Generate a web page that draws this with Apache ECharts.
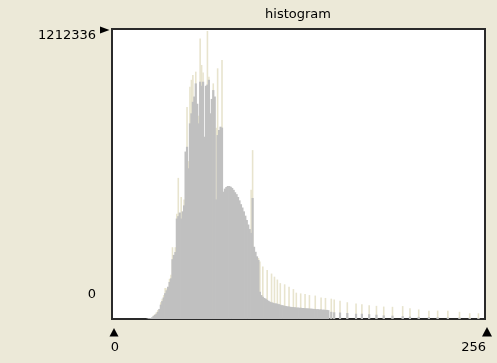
<!DOCTYPE html>
<html>
<head>
<meta charset="utf-8">
<script src="https://cdn.jsdelivr.net/npm/echarts@6/dist/echarts.min.js"></script>
<style>
  html, body { margin: 0; padding: 0; background: #ECE9D8; }
  #char { width: 497px; height: 363px; }
</style>
</head>
<body>
<div id="char"></div>
<script>
// histogram counts, in thousands, one value per bin (0..255)
var grayCounts = [
    0, 0, 0, 0, 0, 0, 0, 0, 0, 0, 0, 0, 0, 0, 0, 0,
    0, 0, 0, 0, 0, 0, 0, 0, 2, 3, 4, 7, 12, 17, 22, 30,
    42, 60, 75, 90, 108, 120, 135, 155, 170, 250, 268, 280, 420, 430, 445, 420,
    450, 475, 700, 720, 630, 818, 860, 908, 930, 985, 900, 818, 992, 975, 992, 762,
    975, 980, 1000, 860, 920, 957, 930, 500, 769, 790, 804, 800, 532, 545, 552, 556,
    556, 553, 548, 540, 530, 522, 510, 496, 480, 466, 450, 432, 414, 395, 376, 360,
    506, 302, 281, 262, 247, 114, 100, 93, 88, 85, 80, 76, 72, 70, 68, 66,
    65, 64, 62, 60, 58, 57, 55, 54, 53, 52, 51, 50, 50, 49, 48, 48,
    47, 47, 46, 46, 45, 45, 44, 44, 43, 43, 42, 42, 41, 41, 40, 40,
    39, 39, 38, 38, 37, 0, 30, 0, 28, 0, 0, 0, 27, 0, 0, 0,
    0, 25, 0, 0, 0, 0, 0, 22, 0, 0, 0, 22, 0, 0, 0, 0,
    20, 0, 0, 0, 0, 18, 0, 0, 0, 0, 15, 0, 0, 0, 0, 0,
    14, 0, 0, 0, 0, 0, 0, 12, 0, 0, 0, 0, 10, 0, 0, 0,
    0, 0, 9, 0, 0, 0, 0, 0, 0, 8, 0, 0, 0, 0, 0, 7,
    0, 0, 0, 0, 0, 0, 6, 0, 0, 0, 0, 0, 0, 0, 6, 0,
    0, 0, 0, 0, 0, 5, 0, 0, 0, 0, 0, 4, 0, 0, 0, 0
];
// light spikes standing above the gray bars
var spikeCounts = [
    0, 0, 0, 0, 0, 0, 0, 0, 0, 0, 0, 0, 0, 0, 0, 0,
    0, 0, 0, 0, 0, 0, 0, 0, 0, 0, 0, 0, 15, 20, 28, 38,
    0, 70, 85, 100, 130, 128, 0, 168, 185, 300, 0, 300, 440, 590, 0, 510,
    0, 500, 0, 886, 660, 971, 1000, 1020, 0, 1034, 0, 850, 1173, 1062, 1030, 0,
    0, 1204, 1013, 0, 0, 985, 0, 800, 1048, 0, 0, 1083, 0, 0, 0, 0,
    0, 0, 0, 0, 0, 0, 0, 0, 0, 0, 0, 0, 0, 0, 0, 540,
    706, 0, 0, 0, 255, 240, 0, 219, 0, 0, 205, 0, 0, 190, 0, 177,
    0, 165, 0, 150, 0, 0, 145, 0, 0, 135, 0, 0, 125, 0, 110, 0,
    0, 107, 0, 0, 105, 0, 0, 100, 0, 0, 0, 98, 0, 0, 0, 90,
    0, 0, 88, 0, 0, 0, 85, 0, 82, 0, 0, 0, 76, 0, 0, 0,
    0, 70, 0, 0, 0, 0, 0, 65, 0, 0, 0, 62, 0, 0, 0, 0,
    58, 0, 0, 0, 0, 55, 0, 0, 0, 0, 52, 0, 0, 0, 0, 0,
    51, 0, 0, 0, 0, 0, 0, 54, 0, 0, 0, 0, 45, 0, 0, 0,
    0, 0, 40, 0, 0, 0, 0, 0, 0, 35, 0, 0, 0, 0, 0, 35,
    0, 0, 0, 0, 0, 0, 35, 0, 0, 0, 0, 0, 0, 0, 30, 0,
    0, 0, 0, 0, 0, 24, 0, 0, 0, 0, 0, 24, 0, 0, 0, 0
];
var yMax = 1212.336;
var yTickLabels = ['0', '1212336'];
var xTickLabels = ['0', '256'];
var titleText = 'histogram';

var bins = [];
for (var i = 0; i < grayCounts.length; i++) {
    bins.push(String(i));
}

var dom = document.getElementById("char");
var myChart = echarts.init(dom, null, { renderer: 'canvas' });

var font = { fontFamily: 'DejaVu Sans', fontSize: 13, fill: '#000' };

option = {
    backgroundColor: '#ECE9D8',
    animation: false,
    grid: {
        left: 112,
        top: 29,
        width: 373,
        height: 290,
        show: true,
        backgroundColor: '#fff',
        borderColor: '#2a2a2a',
        borderWidth: 2
    },
    // two hidden category axes so each series is laid out on its own
    xAxis: [
        { type: 'category', data: bins, show: false },
        { type: 'category', data: bins, show: false }
    ],
    yAxis: {
        type: 'value',
        min: 0,
        max: yMax,
        show: false
    },
    series: [
        {
            type: 'bar',
            xAxisIndex: 0,
            data: spikeCounts,
            barWidth: 1.6,
            itemStyle: { color: '#E8E4CE' }
        },
        {
            type: 'bar',
            xAxisIndex: 1,
            data: grayCounts,
            barWidth: 2.2,
            itemStyle: { color: '#C0C0C0' }
        }
    ],
    graphic: [
        { type: 'text', style: Object.assign({ text: titleText, x: 298, y: 15, align: 'center', verticalAlign: 'middle' }, font) },
        { type: 'text', style: Object.assign({ text: yTickLabels[1], x: 96, y: 36, align: 'right', verticalAlign: 'middle' }, font) },
        { type: 'text', style: Object.assign({ text: yTickLabels[0], x: 96, y: 295, align: 'right', verticalAlign: 'middle' }, font) },
        { type: 'text', style: Object.assign({ text: xTickLabels[0], x: 115, y: 348, align: 'center', verticalAlign: 'middle' }, font) },
        { type: 'text', style: Object.assign({ text: xTickLabels[1], x: 486, y: 348, align: 'right', verticalAlign: 'middle' }, font) },
        // markers
        { type: 'polygon', shape: { points: [[100, 26.5], [109.5, 30], [100, 33.5]] }, style: { fill: '#000' } },
        { type: 'polygon', shape: { points: [[114, 328], [109.5, 336.5], [118.5, 336.5]] }, style: { fill: '#000' } },
        { type: 'polygon', shape: { points: [[487, 327], [482, 336.5], [492, 336.5]] }, style: { fill: '#000' } }
    ]
};
myChart.setOption(option);
</script>
</body>
</html>
